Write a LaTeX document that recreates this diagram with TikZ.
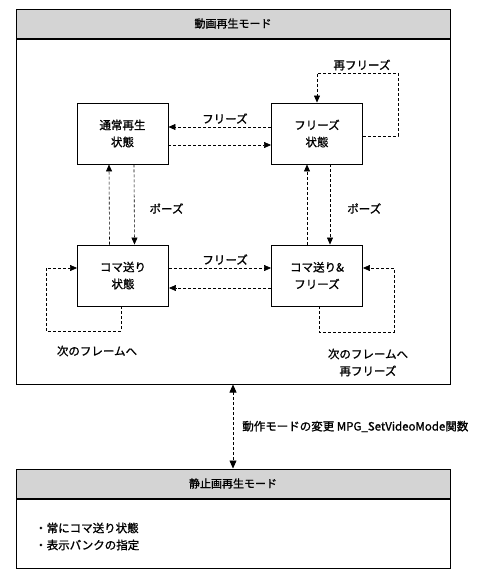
\documentclass[tikz,border=0pt]{standalone}
\usepackage{fontspec}
\setmainfont{Noto Sans CJK JP}[AutoFakeBold=1.2]
\usepackage{tikz}
\usetikzlibrary{arrows.meta,positioning}
\definecolor{mdgray}{HTML}{D4D4D4}

\begin{document}
\begin{tikzpicture}[x=1pt,y=-1pt,
  modehead/.style={draw, line width=1pt, fill=mdgray, minimum width=434pt,
                   minimum height=29pt, inner sep=0pt, font=\fontsize{11}{13}\selectfont\bfseries},
  modebody/.style={draw, line width=1pt, minimum width=434pt, inner sep=0pt},
  statebox/.style={draw, line width=0.9pt, minimum width=91pt, minimum height=61pt,
                   align=center, font=\fontsize{11.5}{17}\selectfont\bfseries},
  arr/.style={-{Triangle[length=7pt,width=6pt]}, line width=0.6pt, dash pattern=on 3pt off 2pt},
  lbl/.style={inner sep=1pt, font=\fontsize{11.5}{17}\selectfont\bfseries, align=center}
]
\useasboundingbox (0,0) rectangle (495,582);

% modes
\node[modehead] (vidhead) at (233,23.5) {動画再生モード};
\node[modebody, minimum height=345pt, below=0pt of vidhead] (vidbody) {};
\node[modehead] (stillhead) at (233,483.5) {静止画再生モード};
\node[modebody, minimum height=69pt, below=0pt of stillhead] (stillbody) {};
\node[lbl, anchor=west, align=left] (stillnote) at (34,536.5) {・常にコマ送り状態\\・表示バンクの指定};

% states
\node[statebox] (normal) at (122.5,133.5) {通常再生\\状態};
\node[statebox] (frz) at (317,133.5) {フリーズ\\状態};
\node[statebox] (koma) at (123,275.5) {コマ送り\\状態};
\node[statebox] (kfrz) at (317,275.5) {コマ送り\&\\フリーズ};

% horizontal
\draw[arr] ([yshift=6.5pt]frz.west) -- node[lbl, above=2pt, pos=0.45] (frzlblA) {フリーズ} ([yshift=6.5pt]normal.east);
\draw[arr] ([yshift=-11.5pt]normal.east) -- ([yshift=-11.5pt]frz.west);
\draw[arr] ([yshift=7.5pt]koma.east) -- node[lbl, above=2pt, pos=0.55] (frzlblB) {フリーズ} ([yshift=7.5pt]kfrz.west);
\draw[arr] ([yshift=-12.5pt]kfrz.west) -- ([yshift=-12.5pt]koma.east);

% vertical
\draw[arr] ([xshift=-13.5pt]koma.north) -- ([xshift=-13.5pt]normal.south);
\draw[arr] ([xshift=11.5pt]normal.south) -- node[lbl, right=14pt, pos=0.55] (pauseA) {ポーズ} ([xshift=11.5pt]koma.north);
\draw[arr] ([xshift=-10pt]kfrz.north) -- ([xshift=-10pt]frz.south);
\draw[arr] ([xshift=13pt]frz.south) -- node[lbl, right=16pt, pos=0.55] (pauseB) {ポーズ} ([xshift=13pt]kfrz.north);

% loops
\coordinate (refrz) at (398,73);
\coordinate (nextA) at (46,331);
\coordinate (nextB) at (394,332);
\draw[arr] ([yshift=-2.5pt]frz.east) -| (refrz) -| (frz.north);
\node[lbl] (refrzlbl) at (362,65) {再フリーズ};
\draw[arr] ([xshift=-2pt]koma.south) |- (nextA) |- ([yshift=7.5pt]koma.west);
\node[lbl] (nextlblA) at (97,351) {次のフレームへ};
\draw[arr] ([xshift=2pt]kfrz.south) |- (nextB) |- ([yshift=7.5pt]kfrz.east);
\node[lbl] (nextlblB) at (368,362.5) {次のフレームへ\\再フリーズ};

% mode change
\draw[{Triangle[length=8pt,width=7pt]}-{Triangle[length=8pt,width=7pt]}, line width=0.6pt,
      dash pattern=on 3pt off 2pt] (vidbody.south) -- node[lbl, right=8pt] (chglbl) {動作モードの変更 MPG\_SetVideoMode関数} (stillhead.north);
\end{tikzpicture}
\end{document}
